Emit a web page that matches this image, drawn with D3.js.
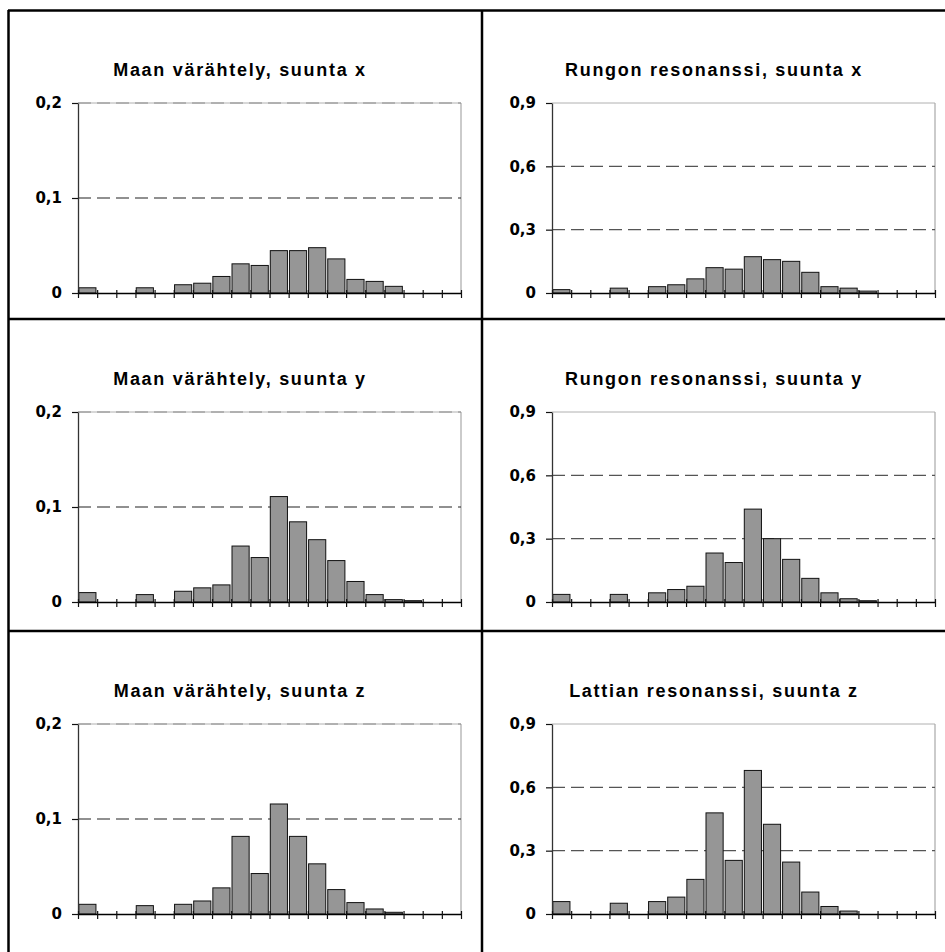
<!doctype html>
<html>
<head>
<meta charset="UTF-8">
<title>Värähtely</title>
<script src="https://d3js.org/d3.v7.min.js"></script>
<style>
  body { margin: 0; background: #fff; }
  svg { display: block; }
</style>
</head>
<body>
<svg id="chart" width="945" height="952"></svg>
<script>
// 20 unlabeled frequency classes along x
var categories = ["1","2","3","4","5","6","7","8","9","10","11","12","13","14","15","16","17","18","19","20"];

var titles = ["Maan värähtely, suunta x", "Rungon resonanssi, suunta x",
              "Maan värähtely, suunta y", "Rungon resonanssi, suunta y",
              "Maan värähtely, suunta z", "Lattian resonanssi, suunta z"];

var maaX    = [0.0055,0,0,0.0055,0,0.0087,0.0103,0.0174,0.0307,0.029,0.0446,0.0446,0.0477,0.0359,0.0143,0.0122,0.007,0,0,0];
var runkoX  = [0.016,0,0,0.023,0,0.030,0.039,0.067,0.12,0.113,0.172,0.158,0.15,0.098,0.03,0.023,0.009,0,0,0];
var maaY    = [0.0099,0,0,0.0078,0,0.0113,0.0149,0.018,0.0589,0.0468,0.111,0.0844,0.0656,0.0436,0.0216,0.0078,0.0025,0.0014,0,0];
var runkoY  = [0.036,0,0,0.036,0,0.0435,0.059,0.0746,0.232,0.187,0.44,0.30,0.202,0.112,0.0435,0.0155,0.006,0,0,0];
var maaZ    = [0.0102,0,0,0.0088,0,0.0102,0.0137,0.0275,0.0817,0.0426,0.1158,0.0817,0.0528,0.0257,0.012,0.0053,0.0018,0,0,0];
var lattiaZ = [0.0588,0,0,0.051,0,0.0588,0.080,0.164,0.479,0.254,0.680,0.425,0.246,0.104,0.0356,0.014,0,0,0,0];

var leftTicks  = [0, 0.1, 0.2];
var leftLabels = ["0", "0,1", "0,2"];
var rightTicks  = [0, 0.3, 0.6, 0.9];
var rightLabels = ["0", "0,3", "0,6", "0,9"];

var series = [maaX, runkoX, maaY, runkoY, maaZ, lattiaZ];

var svg = d3.select("#chart");
svg.append("rect").attr("width", 945).attr("height", 952).attr("fill", "#fff");

var colX = [8, 482], rowY = [10, 319, 631];
var pw = 383, ph = 190;

series.forEach(function(vals, k){
    var col = k % 2, row = Math.floor(k / 2);
    var cx = colX[col], cy = rowY[row];
    var ticks = col == 0 ? leftTicks : rightTicks;
    var labels = col == 0 ? leftLabels : rightLabels;
    var ymax = ticks[ticks.length - 1];

    var g = svg.append("g").attr("transform", "translate(" + (cx + 70) + "," + (cy + 93) + ")");

    var x = d3.scaleBand().domain(categories).range([0, pw]).padding(0);
    var xl = d3.scaleLinear().domain([0, categories.length]).range([0, pw]);
    var y = d3.scaleLinear().domain([0, ymax]).range([ph, 0]);

    // plot border (top + right, light gray)
    g.append("line").attr("x1", 0).attr("x2", pw).attr("y1", 0).attr("y2", 0)
        .attr("stroke", "#b0b0b0").attr("stroke-width", 1);
    g.append("line").attr("x1", pw).attr("x2", pw).attr("y1", 0).attr("y2", ph)
        .attr("stroke", "#a8a8a8").attr("stroke-width", 1.2);

    // dashed gridlines
    g.selectAll(".grid").data(ticks.filter(function(t){ return t > 0 && (col == 0 || t < ymax); }))
        .enter().append("line")
        .attr("x1", 0).attr("x2", pw)
        .attr("y1", function(d){ return y(d); }).attr("y2", function(d){ return y(d); })
        .attr("stroke", function(d){ return col == 0 ? (d == ymax ? "#8a8a8a" : "#222") : "#555"; })
        .attr("stroke-width", 1.2)
        .attr("stroke-dasharray", "13,6");

    // bars (empty classes skipped)
    var bars = categories.map(function(c, i){ return {cat: c, v: vals[i]}; })
        .filter(function(d){ return d.v > 0; });
    g.selectAll(".bar").data(bars).enter().append("rect")
        .attr("x", function(d){ return x(d.cat) + 0.8; })
        .attr("width", x.bandwidth() - 2)
        .attr("y", function(d){ return y(d.v); })
        .attr("height", function(d){ return ph - y(d.v); })
        .attr("fill", "#969696")
        .attr("stroke", "#111")
        .attr("stroke-width", 1);

    // y axis
    var ya = g.append("g").call(d3.axisLeft(y).tickValues(ticks).tickSizeInner(6).tickSizeOuter(0)
        .tickFormat(function(d, i){ return labels[i]; }));
    ya.select(".domain").attr("stroke", "#333").attr("stroke-width", 1.3);
    ya.selectAll(".tick line").attr("stroke", "#111").attr("stroke-width", 1.2);
    ya.selectAll(".tick text")
        .attr("x", -16)
        .style("font-family", "'DejaVu Sans', sans-serif")
        .style("font-weight", "bold")
        .style("font-size", "15px")
        .attr("fill", "#000");

    // x axis with ticks on class boundaries
    var xa = g.append("g").attr("transform", "translate(0," + ph + ")")
        .call(d3.axisBottom(xl).tickValues(d3.range(categories.length + 1)).tickSizeInner(5).tickSizeOuter(0).tickFormat(""));
    xa.select(".domain").attr("stroke", "#000").attr("stroke-width", 1.4);
    xa.selectAll(".tick line").attr("y1", -3).attr("stroke", "#111").attr("stroke-width", 1.2);

    // title
    svg.append("text")
        .attr("x", cx + 232).attr("y", cy + 66)
        .attr("text-anchor", "middle")
        .style("font-family", "'Liberation Sans', Arial, sans-serif")
        .style("font-weight", "bold")
        .style("font-size", "18px")
        .style("letter-spacing", "1.7px")
        .text(titles[k]);
});

// cell frame
var frame = svg.append("g").attr("stroke", "#000").attr("stroke-width", 2.5);
frame.append("line").attr("x1", 8).attr("x2", 945).attr("y1", 10.5).attr("y2", 10.5);
frame.append("line").attr("x1", 8.5).attr("x2", 8.5).attr("y1", 10).attr("y2", 952);
frame.append("line").attr("x1", 482).attr("x2", 482).attr("y1", 10).attr("y2", 952);
frame.append("line").attr("x1", 8).attr("x2", 945).attr("y1", 319).attr("y2", 319);
frame.append("line").attr("x1", 8).attr("x2", 945).attr("y1", 631).attr("y2", 631);
</script>
</body>
</html>
